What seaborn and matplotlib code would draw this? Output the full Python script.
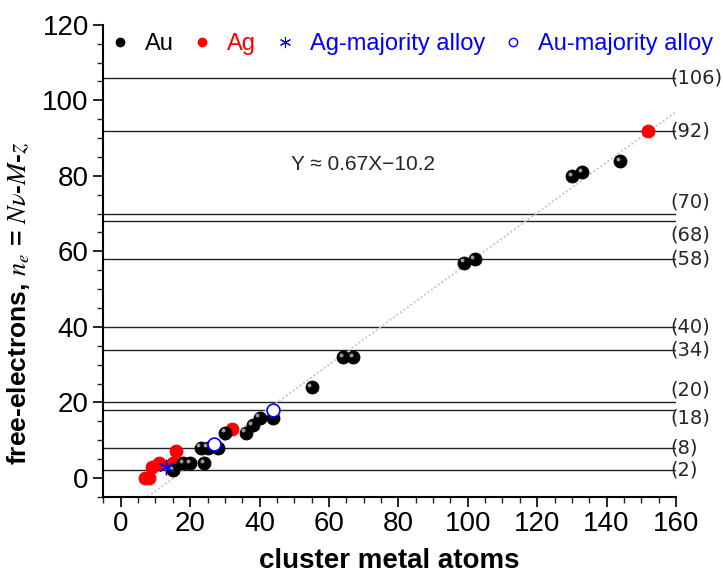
import numpy as np
import pandas as pd
import matplotlib
matplotlib.use("Agg")
import matplotlib.pyplot as plt
import matplotlib.transforms as mtransforms
from matplotlib.lines import Line2D
import seaborn as sns

# cluster size (metal atoms) vs free electron count
au_x = [15, 18, 20, 24, 23, 25, 28, 30, 36, 38, 40, 44, 55, 64, 67, 99, 102, 130, 133, 144]
au_y = [2, 4, 4, 4, 8, 8, 8, 12, 12, 14, 16, 16, 24, 32, 32, 57, 58, 80, 81, 84]
ag_x = [7, 8, 9, 11, 15, 16, 32, 152]
ag_y = [0, 0, 3, 4, 4, 7, 13, 92]
ag_alloy_x = [13]
ag_alloy_y = [3]
au_alloy_x = [27, 44]
au_alloy_y = [9, 18]

# magic numbers (shell closings)
shells = [2, 8, 18, 20, 34, 40, 58, 68, 70, 92, 106]
fit_slope = 0.67
fit_icpt = -10.2

sns.set_style("ticks")
plt.rcParams['font.family'] = ['Liberation Sans', 'DejaVu Sans']
plt.rcParams['mathtext.fontset'] = 'stix'

fig = plt.figure(figsize=(7.23, 5.77), dpi=100)
ax = fig.add_axes([0.143, 0.139, 0.792, 0.818])

# shell lines + labels
label_nudge = {70: 8, 68: -10, 20: 9, 18: -6}
for s in shells:
    ax.axhline(s, color='#222222', lw=1.0, zorder=1)
    off = mtransforms.offset_copy(ax.transData, fig=fig, x=0, y=label_nudge.get(s, 0), units='points')
    ax.text(158.4, s, f"({s})", transform=off, ha='left', va='center',
            fontsize=14, family='DejaVu Sans', clip_on=False)

# linear fit
ax.axline((0, fit_icpt), slope=fit_slope, color='#c8c8c8', ls=(0, (1, 1.2)), lw=1.4, zorder=2)
ax.text(49, 83, "Y \u2248 0.67X\u221210.2", fontsize=15, va='center', ha='left')

au = pd.DataFrame({'atoms': au_x, 'ne': au_y})
ag = pd.DataFrame({'atoms': ag_x, 'ne': ag_y})
agm = pd.DataFrame({'atoms': ag_alloy_x, 'ne': ag_alloy_y})
aum = pd.DataFrame({'atoms': au_alloy_x, 'ne': au_alloy_y})

sns.scatterplot(data=ag, x='atoms', y='ne', color='red', edgecolor='red', s=85, ax=ax, zorder=3)
sns.scatterplot(data=au, x='atoms', y='ne', color='black', edgecolor='black', s=85, ax=ax, zorder=4)
# sphere highlight
hl = mtransforms.offset_copy(ax.transData, fig=fig, x=-1.6, y=1.6, units='points')
ax.scatter(au['atoms'], au['ne'], s=8, color='#9a9a9a', transform=hl, zorder=5, linewidths=0)
sns.scatterplot(data=agm, x='atoms', y='ne', marker=(6, 2, 0), color='blue', s=110, linewidth=1.0, ax=ax, zorder=6)
sns.scatterplot(data=aum, x='atoms', y='ne', marker='o', facecolor='white', edgecolor='blue', s=85,
                linewidth=1.2, ax=ax, zorder=6)

ax.set_xlim(-5, 160)
ax.set_ylim(-5, 120)
ax.set_xticks(np.arange(0, 161, 20))
ax.set_xticks(np.arange(-5, 161, 5), minor=True)
ax.set_yticks(np.arange(0, 121, 20))
ax.set_yticks(np.arange(-5, 121, 5), minor=True)
ax.tick_params(which='major', direction='out', length=7, width=1.2, labelsize=20, colors='black')
ax.tick_params(which='minor', direction='out', length=4, width=1.0)
for side in ['top', 'right']:
    ax.spines[side].set_visible(False)
for side in ['left', 'bottom']:
    ax.spines[side].set_linewidth(1.5)
    ax.spines[side].set_color('black')

ax.set_xlabel("cluster metal atoms", fontsize=20, fontweight='bold', labelpad=8, color='black')
ax.set_ylabel(r"free-electrons, $n_e$ = $N\nu$-$M$-$z$", fontsize=19, fontweight='bold', color='black')
ax.yaxis.set_label_coords(-0.125, 0.41)

handles = [
    Line2D([], [], ls='', marker='o', color='black', markersize=6),
    Line2D([], [], ls='', marker='o', color='red', markersize=6),
    Line2D([], [], ls='', marker=(6, 2, 0), color='blue', markersize=8, markeredgewidth=0.8),
    Line2D([], [], ls='', marker='o', markerfacecolor='white', markeredgecolor='blue', markersize=6),
]
labels = ["Au", "Ag", "Ag-majority alloy", "Au-majority alloy"]
leg = fig.legend(handles, labels, loc='center left', bbox_to_anchor=(0.153, 1 - 44 / 577), ncol=4,
                 frameon=False, fontsize=17, handlelength=0.8, handletextpad=0.66, columnspacing=0.8,
                 borderaxespad=0, borderpad=0)
for t, c in zip(leg.get_texts(), ['black', 'red', 'blue', 'blue']):
    t.set_color(c)

fig.savefig("out.png", dpi=100)
